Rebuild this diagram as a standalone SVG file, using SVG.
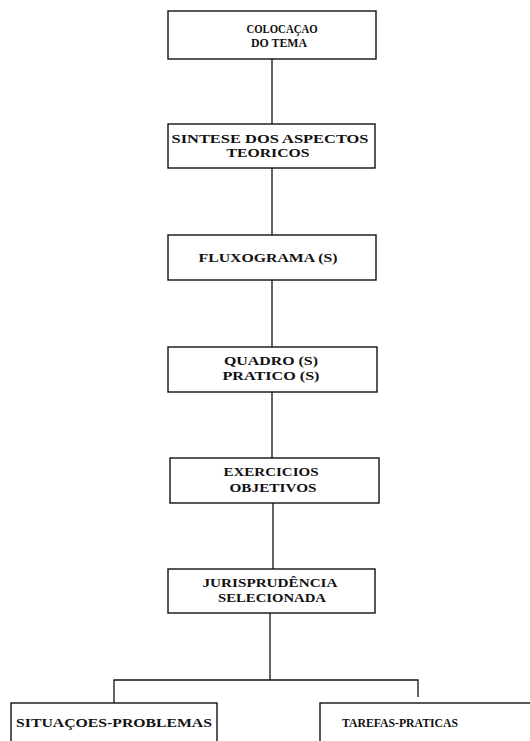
<svg xmlns="http://www.w3.org/2000/svg" width="530" height="741" viewBox="0 0 530 741">
<style>
.box{fill:#fff;stroke:#111;stroke-width:1.4}
.ln{fill:none;stroke:#111;stroke-width:1.3}
text{font-family:"Liberation Serif","DejaVu Serif",serif;font-weight:bold;font-size:11.5px;fill:#111;text-anchor:middle}
</style>
<rect width="530" height="741" fill="#fff"/>
<g id="connectors">
<line class="ln" x1="272" y1="59" x2="272" y2="124"/>
<line class="ln" x1="272" y1="168" x2="272" y2="235"/>
<line class="ln" x1="272" y1="280" x2="272" y2="347"/>
<line class="ln" x1="272" y1="392" x2="272" y2="458"/>
<line class="ln" x1="273" y1="503" x2="273" y2="569"/>
<line class="ln" x1="270" y1="613" x2="270" y2="680"/>
<polyline class="ln" points="114,703 114,680 418,680 418,697"/>
</g>
<g id="n1"><rect class="box" x="168" y="11" width="208" height="48"/>
<text x="282" y="33" textLength="71" lengthAdjust="spacingAndGlyphs">COLOCAÇAO</text>
<text x="279" y="47" textLength="56" lengthAdjust="spacingAndGlyphs">DO TEMA</text></g>
<g id="n2"><rect class="box" x="168" y="124" width="207" height="44"/>
<text x="270" y="143" textLength="197" lengthAdjust="spacingAndGlyphs">SINTESE DOS ASPECTOS</text>
<text x="268" y="157" textLength="83" lengthAdjust="spacingAndGlyphs">TEORICOS</text></g>
<g id="n3"><rect class="box" x="168" y="235" width="208" height="45"/>
<text x="268" y="262" textLength="139" lengthAdjust="spacingAndGlyphs">FLUXOGRAMA (S)</text></g>
<g id="n4"><rect class="box" x="168" y="347" width="209" height="45"/>
<text x="271" y="365" textLength="94" lengthAdjust="spacingAndGlyphs">QUADRO (S)</text>
<text x="271" y="380" textLength="97" lengthAdjust="spacingAndGlyphs">PRATICO (S)</text></g>
<g id="n5"><rect class="box" x="170" y="458" width="209" height="45"/>
<text x="271" y="476" textLength="95" lengthAdjust="spacingAndGlyphs">EXERCICIOS</text>
<text x="273" y="492" textLength="87" lengthAdjust="spacingAndGlyphs">OBJETIVOS</text></g>
<g id="n6"><rect class="box" x="168" y="569" width="207" height="44"/>
<text x="270" y="587" textLength="135" lengthAdjust="spacingAndGlyphs">JURISPRUDÊNCIA</text>
<text x="272" y="602" textLength="108" lengthAdjust="spacingAndGlyphs">SELECIONADA</text></g>
<g id="n7"><rect class="box" x="11" y="703" width="206" height="60"/>
<text x="114" y="727" textLength="196" lengthAdjust="spacingAndGlyphs">SITUAÇOES-PROBLEMAS</text></g>
<g id="n8"><rect class="box" x="320" y="703" width="230" height="60"/>
<text x="400" y="727" textLength="116" lengthAdjust="spacingAndGlyphs">TAREFAS-PRATICAS</text></g>
</svg>
